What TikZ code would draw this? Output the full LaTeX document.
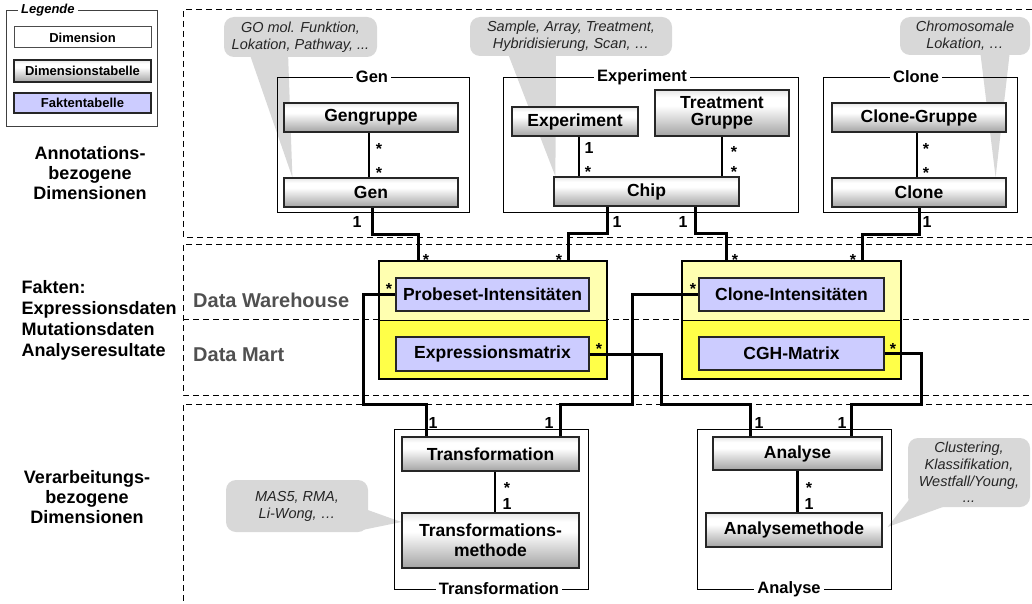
\documentclass[tikz,border=0pt]{standalone}
\usepackage{fontspec}
\setmainfont{Liberation Sans}
\usetikzlibrary{calc,backgrounds}
\definecolor{bubgray}{RGB}{216,216,216}
\definecolor{lyellow}{RGB}{255,255,176}
\definecolor{dyellow}{RGB}{255,255,72}
\definecolor{lav}{RGB}{204,204,255}
\definecolor{dwgray}{RGB}{80,80,80}
\pgfdeclareverticalshading{dimshade}{100bp}{color(0bp)=(black!36); color(25bp)=(black!36); color(58bp)=(white); color(67bp)=(white); color(75bp)=(black!10); color(100bp)=(black!10)}
\newcommand\boxfont{\fontsize{17.5}{20}\selectfont\bfseries}
\newcommand\legfont{\fontsize{13}{15}\selectfont\bfseries}
\tikzset{
  dimtab/.style={draw=black!85, line width=1.2pt, shading=dimshade, font=\boxfont, align=center, inner sep=0pt},
  dimbox/.style={draw=black!70, line width=1pt, fill=white, font=\legfont, inner sep=0pt},
  fakt/.style={draw=black!85, line width=1.2pt, fill=lav, font=\boxfont, inner sep=0pt},
  factbox/.style={draw=black, line width=2pt, inner sep=0pt,
    path picture={
      \fill[lyellow] (path picture bounding box.north west) rectangle (path picture bounding box.east);
      \fill[dyellow] (path picture bounding box.west) rectangle (path picture bounding box.south east);
      \draw[line width=0.8pt] (path picture bounding box.west) -- (path picture bounding box.east);}},
  grp/.style={draw=black, line width=0.9pt, inner sep=0pt},
  grptitle/.style={fill=white, inner sep=3pt, font=\fontsize{16.5}{18}\selectfont\bfseries},
  conn/.style={line width=3pt},
  rel/.style={line width=2.6pt},
  mult/.style={font=\fontsize{16}{16}\selectfont\bfseries, inner sep=0pt},
  bub/.style={fill=bubgray, rounded corners=10pt, inner sep=0pt, font=\fontsize{14.5}{17}\selectfont\itshape, align=center, text=black!85},
  region/.style={dash pattern=on 6pt off 4pt, line width=1pt},
  sidelab/.style={font=\fontsize{18}{20}\selectfont\bfseries, align=center},
  dwlab/.style={font=\fontsize{20}{22}\selectfont\bfseries, text=dwgray, anchor=west, inner sep=0pt},
}
\begin{document}
\begin{tikzpicture}[x=1pt,y=-1pt]
\useasboundingbox (0,0) rectangle (1032,604);

% regions
\draw[region] (1032,10) -- (183,10) -- (183,237) -- (1032,237);
\draw[region] (1032,244) -- (183,244) -- (183,395) -- (1032,395);
\draw[region] (183,319) -- (1032,319);
\draw[region] (1032,404) -- (183,404) -- (183,604);

% side labels
\node[sidelab] (lab1) at (90,173) {Annotations-\\bezogene\\Dimensionen};
\node[sidelab, align=left, anchor=west, font=\fontsize{18}{21}\selectfont\bfseries] (lab2) at (18,320) {Fakten:\\Expressionsdaten\\Mutationsdaten\\Analyseresultate};
\node[sidelab] (lab3) at (87,497) {Verarbeitungs-\\bezogene\\Dimensionen};
\node[dwlab] (dw) at (193,300) {Data Warehouse};
\node[dwlab] (dm) at (193,355) {Data Mart};

% legend
\node[grp, draw=black!75, minimum width=151, minimum height=116] (legend) at (81.5,68) {};
\node[grptitle, anchor=west, font=\fontsize{13}{15}\selectfont\bfseries\itshape] (legtitle) at (18,10) {Legende};
\node[dimbox, minimum width=137, minimum height=21] (legdim) at (82.5,37.5) {Dimension};
\node[dimtab, font=\legfont, minimum width=137, minimum height=22] (legdimtab) at (82.5,71) {Dimensionstabelle};
\node[fakt, font=\legfont, minimum width=137, minimum height=20] (legfakt) at (82.5,103) {Faktentabelle};

% bubbles
\node[bub, minimum width=153, minimum height=40] (bubgen) at (300.5,37) {GO mol. Funktion,\\Lokation, Pathway, ...};
\node[bub, minimum width=202, minimum height=39] (bubexp) at (571,36.5) {Sample, Array, Treatment,\\Hybridisierung, Scan, …};
\node[bub, minimum width=130, minimum height=38] (bubclone) at (965,36) {Chromosomale\\Lokation, …};
\node[bub, minimum width=142, minimum height=52] (bubtrans) at (297,506) {MAS5, RMA,\\Li-Wong, …};
\node[bub, minimum width=122, minimum height=69, font=\fontsize{14.5}{16.7}\selectfont\itshape] (bubana) at (969,472.5) {Clustering,\\Klassifikation,\\Westfall/Young,\\...};

% Gen group
\node[grp, minimum width=192, minimum height=135] (fgen) at (373,144.5) {};
\node[grptitle] (tgen) at (372,77) {Gen};
\node[dimtab, minimum width=174, minimum height=29] (gengruppe) at (371,117.5) {Gengruppe};
\node[dimtab, minimum width=174, minimum height=29] (gen) at (371,192.5) {Gen};
\draw[rel] ([xshift=-2]gengruppe.south) -- ([xshift=-2]gen.north);
\node[mult] (m1) at (379,148.5) {*};
\node[mult] (m2) at (379,172.5) {*};

% Experiment group
\node[grp, minimum width=295, minimum height=135] (fexp) at (650.5,144.5) {};
\node[grptitle] (texp) at (642,77) {Experiment};
\node[dimtab, minimum width=126, minimum height=29] (experiment) at (575,121.5) {Experiment};
\node[dimtab, minimum width=134, minimum height=46, font=\fontsize{17.5}{17}\selectfont\bfseries] (treatment) at (722,113) {Treatment\\Gruppe};
\node[dimtab, minimum width=185, minimum height=29] (chip) at (646.5,191.5) {Chip};
\draw[rel] ([xshift=4]experiment.south) -- ([xshift=4]experiment.south |- chip.north);
\draw[rel] (treatment.south) -- (treatment.south |- chip.north);
\node[mult] (m3) at (589,148) {1};
\node[mult] (m4) at (588,171.5) {*};
\node[mult] (m5) at (734,151.5) {*};
\node[mult] (m6) at (734,171.5) {*};

% Clone group
\node[grp, minimum width=194, minimum height=135] (fclone) at (920,144.5) {};
\node[grptitle] (tclone) at (916,77) {Clone};
\node[dimtab, minimum width=174, minimum height=29] (clonegruppe) at (919,117.5) {Clone-Gruppe};
\node[dimtab, minimum width=174, minimum height=29] (clone) at (919,192.5) {Clone};
\draw[rel] ([xshift=-2]clonegruppe.south) -- ([xshift=-2]clone.north);
\node[mult] (m7) at (926,148.5) {*};
\node[mult] (m8) at (926,172.5) {*};

% fact tables
\node[factbox, minimum width=228, minimum height=118] (fact1) at (493,320) {};
\node[fakt, minimum width=193, minimum height=33] (probeset) at (492.5,294.5) {Probeset-Intensitäten};
\node[fakt, minimum width=193, minimum height=34] (exprmatrix) at (492.5,354) {Expressionsmatrix};
\node[factbox, minimum width=219, minimum height=118] (fact2) at (791.5,320) {};
\node[fakt, minimum width=185, minimum height=33] (cloneint) at (791.5,294.5) {Clone-Intensitäten};
\node[fakt, minimum width=185, minimum height=33] (cghmatrix) at (791.5,353.5) {CGH-Matrix};

% Transformation group
\node[grp, minimum width=194, minimum height=160] (ftrans) at (491,509) {};
\node[grptitle] (ttrans) at (499,589) {Transformation};
\node[dimtab, minimum width=177, minimum height=34] (transformation) at (490.5,454) {Transformation};
\node[dimtab, minimum width=177, minimum height=55] (tmethode) at (490.5,540.5) {Transformations-\\methode};
\draw[rel] ([xshift=4.5]transformation.south) -- ([xshift=4.5]tmethode.north);
\node[mult] (m9) at (507,487.5) {*};
\node[mult] (m10) at (507,504) {1};

% Analyse group
\node[grp, minimum width=194, minimum height=160] (fana) at (794,509) {};
\node[grptitle] (tana) at (789,589) {Analyse};
\node[dimtab, minimum width=169, minimum height=33] (analyse) at (797.5,453.5) {Analyse};
\node[dimtab, minimum width=176, minimum height=34] (amethode) at (794,530) {Analysemethode};
\draw[rel] (analyse.south) -- (analyse.south |- amethode.north);
\node[mult] (m11) at (809,487.5) {*};
\node[mult] (m12) at (809,504) {1};

% bubble tails
\begin{scope}[on background layer]
\fill[bubgray] ([xshift=-51.5,yshift=5]bubgen.south) -- ([xshift=-12.5,yshift=5]bubgen.south) -- ([xshift=9]gen.north west) -- cycle;
\fill[bubgray] ([xshift=-64,yshift=5]bubexp.south) -- ([xshift=-15,yshift=5]bubexp.south) -- ([xshift=2]chip.north west) -- cycle;
\fill[bubgray] ([xshift=15,yshift=5]bubclone.south) -- ([xshift=45,yshift=5]bubclone.south) -- ([xshift=-11]clone.north east) -- cycle;
\fill[bubgray] ([xshift=-6,yshift=-2]bubtrans.east) -- ([xshift=-6,yshift=-24]bubtrans.east) -- ([yshift=18.5]tmethode.west) -- cycle;
\fill[bubgray] ([xshift=4,yshift=11]bubana.south west) -- ([xshift=40,yshift=2]bubana.south west) -- ([xshift=5,yshift=3]amethode.east) -- cycle;
\end{scope}

% connectors dimensions -> facts
\draw[conn] ([xshift=1]gen.south) -- ++(0,27) -| ([xshift=40]fact1.north west);
\draw[conn] ([xshift=-39.5]chip.south) -- ++(0,27) -| ([xshift=-40]fact1.north east);
\draw[conn] ([xshift=48.5]chip.south) -- ++(0,27) -| ([xshift=45]fact2.north west);
\draw[conn] (clone.south) -- ++(0,27) -| ([xshift=-40]fact2.north east);
\node[mult] (n1) at (357,222) {1};
\node[mult] (n2) at (617,222) {1};
\node[mult] (n3) at (683,222) {1};
\node[mult] (n4) at (927,222) {1};
\node[mult] (s1) at (426,259.5) {*};
\node[mult] (s2) at (559,259.5) {*};
\node[mult] (s3) at (735,259.5) {*};
\node[mult] (s4) at (853,259.5) {*};

% connectors facts -> processing
\coordinate (b1) at (363,404);
\coordinate (b2) at (632,404);
\coordinate (b3) at (661,404);
\coordinate (b4) at (921,404);
\draw[conn] (probeset.west) -| (b1) -| ([xshift=-64.5]transformation.north);
\draw[conn] (cloneint.west) -| (b2) -| ([xshift=69.5]transformation.north);
\draw[conn] (exprmatrix.east) -| (b3) -| ([xshift=-47.5]analyse.north);
\draw[conn] (cghmatrix.east) -| (b4) -| ([xshift=53.5]analyse.north);
\node[mult] (s5) at (389,288.5) {*};
\node[mult] (s6) at (693,288.5) {*};
\node[mult] (s7) at (599,348.5) {*};
\node[mult] (s8) at (893,348.5) {*};
\node[mult] (n5) at (433,423) {1};
\node[mult] (n6) at (549,423) {1};
\node[mult] (n7) at (759,423) {1};
\node[mult] (n8) at (842,423) {1};
\end{tikzpicture}
\end{document}
